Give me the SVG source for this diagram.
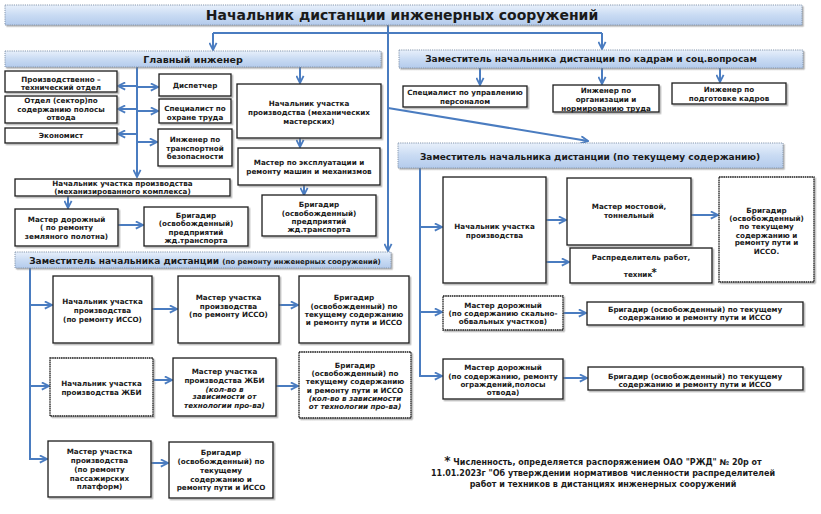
<svg xmlns="http://www.w3.org/2000/svg" width="821" height="514" viewBox="0 0 821 514">
<style>
text{font-family:"DejaVu Sans","Verdana",sans-serif;font-weight:bold;fill:#1a1a1a;text-anchor:middle}
.t{font-size:7.2px}
.it{font-style:italic}
.bar{fill:url(#g);stroke:#8496ad;stroke-width:1;stroke-dasharray:1.2 1;filter:url(#sh)}
.box{fill:#fff;stroke:#1a1a1a;stroke-width:1.3;filter:url(#sh)}
.dot{stroke-dasharray:1.6 0.6}
.c{fill:none;stroke:#4a7cc0;stroke-width:2;marker-end:url(#a)}
.l{fill:none;stroke:#4a7cc0;stroke-width:2}
</style>
<defs>
<linearGradient id="g" x1="0" y1="0" x2="0" y2="1">
<stop offset="0" stop-color="#e8f0fb"/>
<stop offset="0.5" stop-color="#c9dbf3"/>
<stop offset="1" stop-color="#b4cbec"/>
</linearGradient>
<filter id="sh" x="-5%" y="-20%" width="110%" height="140%">
<feDropShadow dx="1.5" dy="1.5" stdDeviation="0.7" flood-color="#777" flood-opacity="0.55"/>
</filter>
<marker id="a" viewBox="0 0 10 10" refX="9" refY="5" markerWidth="9" markerHeight="9" markerUnits="userSpaceOnUse" orient="auto">
<path d="M1,1 L9,5 L1,9" fill="none" stroke="#4a7cc0" stroke-width="2"/>
</marker>
</defs>

<g id="connectors">
<path class="l" d="M213,33 H602"/>
<path class="c" d="M213,33 V50"/>
<path class="c" d="M602,33 V49"/>
<path class="c" d="M388,25 V251"/>
<path class="c" d="M388,108 L588,141"/>
<path class="c" d="M137,67 V177"/>
<path class="c" d="M137,86 H118"/>
<path class="c" d="M137,109 H118"/>
<path class="c" d="M137,134 H118"/>
<path class="c" d="M137,87 H158"/>
<path class="c" d="M137,111 H158"/>
<path class="c" d="M137,142 H157"/>
<path class="c" d="M300,67 V83"/>
<path class="c" d="M300,138 V147"/>
<path class="c" d="M304,185 V195"/>
<path class="c" d="M68,196 V208"/>
<path class="c" d="M118,225 H143"/>
<path class="c" d="M480,68 V85"/>
<path class="c" d="M602,68 V84"/>
<path class="c" d="M720,68 V82"/>
<path class="c" d="M420,168 V376 H442"/>
<path class="c" d="M420,227 H442"/>
<path class="c" d="M420,312 H442"/>
<path class="c" d="M546,220 H566"/>
<path class="c" d="M546,262 H569"/>
<path class="c" d="M691,215 H718"/>
<path class="c" d="M563,313 H586"/>
<path class="c" d="M563,378 H587"/>
<path class="c" d="M30,268 V459 H47"/>
<path class="c" d="M30,305 H52"/>
<path class="c" d="M30,386 H49"/>
<path class="c" d="M152,309 H177"/>
<path class="c" d="M279,305 H298"/>
<path class="c" d="M153,380 H172"/>
<path class="c" d="M276,386 H298"/>
<path class="c" d="M151,463 H168"/>
</g>

<g id="title">
<rect class="bar" x="5" y="5" width="797" height="20"/>
<text x="402" y="20" style="font-size:14px">Начальник дистанции инженерных сооружений</text>
</g>

<g id="chief-engineer">
<rect class="bar" x="5" y="51" width="376" height="16"/>
<text x="193" y="62.5" style="font-size:9.5px">Главный инженер</text>
</g>

<g id="deputy-hr">
<rect class="bar" x="399" y="50" width="404" height="18"/>
<text x="591" y="62" style="font-size:9px">Заместитель начальника дистанции по кадрам и соц.вопросам</text>
</g>

<g id="deputy-maint">
<rect class="bar" x="398" y="143" width="385" height="25"/>
<text x="590" y="160" style="font-size:9px">Заместитель начальника дистанции (по текущему содержанию)</text>
</g>

<g id="deputy-repair">
<rect class="bar" x="15" y="252" width="376" height="16"/>
<text x="205" y="263.5" style="font-size:9px">Заместитель начальника дистанции <tspan style="font-size:7px">(по ремонту инженерных сооружений)</tspan></text>
</g>

<g id="pto">
<rect class="box" x="5" y="71" width="112" height="21"/>
<text class="t" x="61" y="81.6">Производственно –</text>
<text class="t" x="61" y="90">технический отдел</text>
</g>
<g id="otdel">
<rect class="box" x="5" y="96" width="112" height="27"/>
<text class="t" x="61" y="102.6">Отдел (сектор)по</text>
<text class="t" x="61" y="111.6">содержанию полосы</text>
<text class="t" x="61" y="120">отвода</text>
</g>
<g id="economist">
<rect class="box" x="5" y="128" width="112" height="15"/>
<text class="t" x="61" y="138">Экономист</text>
</g>
<g id="dispatcher">
<rect class="box" x="159" y="74" width="72" height="22"/>
<text class="t" x="195" y="87.6">Диспетчер</text>
</g>
<g id="safety">
<rect class="box" x="159" y="99" width="72" height="24"/>
<text class="t" x="195" y="111">Специалист по</text>
<text class="t" x="195" y="120">охране труда</text>
</g>
<g id="transport-security">
<rect class="box" x="158" y="129" width="74" height="37"/>
<text class="t" x="195" y="141.6">Инженер по</text>
<text class="t" x="195" y="150.9">транспортной</text>
<text class="t" x="195" y="159.3">безопасности</text>
</g>
<g id="mech-workshops">
<rect class="box" x="237" y="84" width="144" height="54"/>
<text class="t" x="309" y="106">Начальник участка</text>
<text class="t" x="309" y="115">производства (механических</text>
<text class="t" x="309" y="123.5">мастерских)</text>
</g>
<g id="master-machines">
<rect class="box" x="238" y="148" width="142" height="37"/>
<text class="t" x="309" y="165.3">Мастер по эксплуатации и</text>
<text class="t" x="309" y="173.8">ремонту машин и механизмов</text>
</g>
<g id="brigadir-mech">
<rect class="box" x="262" y="195" width="114" height="41"/>
<text class="t" x="319" y="207">Бригадир</text>
<text class="t" x="319" y="216">(освобожденный)</text>
<text class="t" x="319" y="224.3">предприятий</text>
<text class="t" x="319" y="232">жд.транспорта</text>
</g>
<g id="mech-complex">
<rect class="box" x="15" y="179" width="215" height="17"/>
<text class="t" x="122.5" y="186">Начальник участка производства</text>
<text class="t" x="122.5" y="194.3">(механизированного комплекса)</text>
</g>
<g id="master-road-earth">
<rect class="box" x="15" y="209" width="103" height="37"/>
<text class="t" x="66.5" y="222">Мастер дорожный</text>
<text class="t" x="66.5" y="230.3">( по ремонту</text>
<text class="t" x="66.5" y="239.3">земляного полотна)</text>
</g>
<g id="brigadir-earth">
<rect class="box" x="144" y="207" width="104" height="39"/>
<text class="t" x="196" y="217.6">Бригадир</text>
<text class="t" x="196" y="226.3">(освобожденный)</text>
<text class="t" x="196" y="235">предприятий</text>
<text class="t" x="196" y="243">жд.транспорта</text>
</g>

<g id="hr-specialist">
<rect class="box" x="403" y="86" width="124" height="21"/>
<text class="t" x="465" y="95.3">Специалист по управлению</text>
<text class="t" x="465" y="104.3">персоналом</text>
</g>
<g id="labor-engineer">
<rect class="box" x="553" y="85" width="106" height="27"/>
<text class="t" x="606" y="93.3">Инженер по</text>
<text class="t" x="606" y="102">организации  и</text>
<text class="t" x="606" y="110.5">нормированию труда</text>
</g>
<g id="training-engineer">
<rect class="box" x="672" y="83" width="114" height="21"/>
<text class="t" x="729" y="92">Инженер по</text>
<text class="t" x="729" y="101.3">подготовке кадров</text>
</g>

<g id="section-chief">
<rect class="box" x="443" y="177" width="103" height="106"/>
<text class="t" x="494.5" y="229.3">Начальник участка</text>
<text class="t" x="494.5" y="237.6">производства</text>
</g>
<g id="bridge-master">
<rect class="box" x="567" y="178" width="124" height="67"/>
<text class="t" x="629" y="209.3">Мастер мостовой,</text>
<text class="t" x="629" y="218.3">тоннельный</text>
</g>
<g id="distributor">
<rect class="box" x="570" y="248" width="142" height="35"/>
<text class="t" x="641" y="260">Распределитель работ,</text>
<text class="t" x="638" y="277">техник</text>
<text x="654" y="276" style="font-size:10px">*</text>
</g>
<g id="brigadir-bridge">
<rect class="box dot" x="719" y="177" width="95" height="105"/>
<text class="t" x="766.5" y="212.6">Бригадир</text>
<text class="t" x="766.5" y="221">(освобожденный)</text>
<text class="t" x="766.5" y="229.3">по текущему</text>
<text class="t" x="766.5" y="237.6">содержанию и</text>
<text class="t" x="766.5" y="245.3">ремонту пути и</text>
<text class="t" x="766.5" y="253.6">ИССО.</text>
</g>
<g id="master-rockfall">
<rect class="box dot" x="443" y="296" width="120" height="34"/>
<text class="t" x="503" y="307.6">Мастер дорожный</text>
<text class="t" x="503" y="316">(по содержанию скально-</text>
<text class="t" x="503" y="324.3">обвальных участков)</text>
</g>
<g id="brigadir-rockfall">
<rect class="box" x="587" y="302" width="216" height="23"/>
<text class="t" x="695" y="312">Бригадир (освобожденный) по текущему</text>
<text class="t" x="695" y="320.3">содержанию и ремонту пути и ИССО</text>
</g>
<g id="master-fences">
<rect class="box" x="443" y="359" width="120" height="40"/>
<text class="t" x="503" y="370.3">Мастер дорожный</text>
<text class="t" x="503" y="379.3">(по содержанию, ремонту</text>
<text class="t" x="503" y="387">ограждений,полосы</text>
<text class="t" x="503" y="395.3">отвода)</text>
</g>
<g id="brigadir-fences">
<rect class="box" x="588" y="367" width="215" height="23"/>
<text class="t" x="695" y="378.6">Бригадир (освобожденный) по текущему</text>
<text class="t" x="695" y="387">содержанию и ремонту пути и ИССО</text>
</g>

<g id="chief-isso">
<rect class="box" x="53" y="276" width="99" height="67"/>
<text class="t" x="102.5" y="304.3">Начальник участка</text>
<text class="t" x="102.5" y="313.3">производства</text>
<text class="t" x="102.5" y="322">(по ремонту ИССО)</text>
</g>
<g id="master-isso">
<rect class="box" x="178" y="276" width="101" height="67"/>
<text class="t" x="228.5" y="300.3">Мастер участка</text>
<text class="t" x="228.5" y="308.6">производства</text>
<text class="t" x="228.5" y="317">(по ремонту ИССО)</text>
</g>
<g id="brigadir-isso">
<rect class="box" x="299" y="276" width="110" height="67"/>
<text class="t" x="354" y="300">Бригадир</text>
<text class="t" x="354" y="308.6">(освобожденный) по</text>
<text class="t" x="354" y="316.6">текущему содержанию</text>
<text class="t" x="354" y="325.3">и ремонту пути и ИССО</text>
</g>
<g id="chief-zhbi">
<rect class="box dot" x="50" y="358" width="103" height="58"/>
<text class="t" x="101.5" y="386">Начальник участка</text>
<text class="t" x="101.5" y="395">производства ЖБИ</text>
</g>
<g id="master-zhbi">
<rect class="box" x="173" y="358" width="103" height="58"/>
<text class="t" x="224.5" y="374.3">Мастер участка</text>
<text class="t" x="224.5" y="382.6">производства ЖБИ</text>
<text class="t it" x="224.5" y="391.6">(кол-во в</text>
<text class="t it" x="224.5" y="399.3">зависимости от</text>
<text class="t it" x="224.5" y="407.6">технологии про-ва)</text>
</g>
<g id="brigadir-zhbi">
<rect class="box dot" x="299" y="352" width="112" height="66"/>
<text class="t" x="355" y="367.6">Бригадир</text>
<text class="t" x="355" y="375.9">(освобожденный) по</text>
<text class="t" x="355" y="384.3">текущему содержанию</text>
<text class="t" x="355" y="392.6">и ремонту пути и ИССО</text>
<text class="t it" x="355" y="400.9">(кол-во в зависимости</text>
<text class="t it" x="355" y="409.3">от технологии про-ва)</text>
</g>
<g id="master-platforms">
<rect class="box" x="48" y="441" width="103" height="56"/>
<text class="t" x="99.5" y="454.3">Мастер участка</text>
<text class="t" x="99.5" y="463.3">производства</text>
<text class="t" x="99.5" y="471.9">(по ремонту</text>
<text class="t" x="99.5" y="480.9">пассажирских</text>
<text class="t" x="99.5" y="489.3">платформ)</text>
</g>
<g id="brigadir-platforms">
<rect class="box" x="169" y="442" width="104" height="56"/>
<text class="t" x="221" y="455.3">Бригадир</text>
<text class="t" x="221" y="464.3">(освобожденный) по</text>
<text class="t" x="221" y="472.6">текущему</text>
<text class="t" x="221" y="481.6">содержанию и</text>
<text class="t" x="221" y="489.9">ремонту пути и ИССО</text>
</g>

<g id="footnote">
<text x="603" y="465" style="font-size:8px"><tspan style="font-size:12px">*</tspan> Численность, определяется распоряжением ОАО "РЖД"  № 20р от</text>
<text x="603" y="476" style="font-size:8px">11.01.2023г "Об утверждении нормативов численности распределителей</text>
<text x="603" y="487" style="font-size:8px">работ и техников в дистанциях инженерных сооружений</text>
</g>
</svg>
